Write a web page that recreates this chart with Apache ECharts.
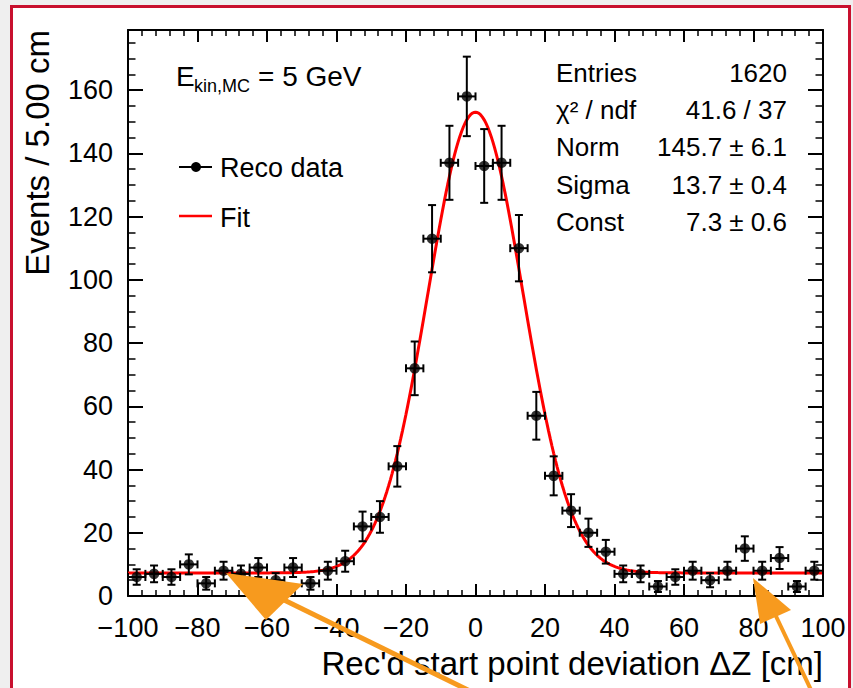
<!DOCTYPE html>
<html><head><meta charset="utf-8">
<script src="https://cdn.jsdelivr.net/npm/echarts@6/dist/echarts.min.js"></script>
<style>
html,body{margin:0;padding:0;background:#efefef;width:853px;height:688px;overflow:hidden}
#frame{position:absolute;left:10px;top:5px;width:841px;height:720px;border:3px solid #c8102e;background:#fff;box-sizing:border-box}
#main{position:absolute;left:0;top:0;width:853px;height:688px}
</style></head><body>
<div id="frame"></div><div id="main"></div>
<script>
// ---- data ----
const binCenters = [-97.5,-92.5,-87.5,-82.5,-77.5,-72.5,-67.5,-62.5,-57.5,-52.5,
  -47.5,-42.5,-37.5,-32.5,-27.5,-22.5,-17.5,-12.5,-7.5,-2.5,
  2.5,7.5,12.5,17.5,22.5,27.5,32.5,37.5,42.5,47.5,
  52.5,57.5,62.5,67.5,72.5,77.5,82.5,87.5,92.5,97.5];
const counts = [6,7,6,10,4,8,7,9,5,9,
  4,8,11,22,25,41,72,113,137,158,
  136,137,110,57,38,27,20,14,7,7,
  3,6,8,5,8,15,8,12,3,8];
const binHalfWidth = 2.5;
// fit parameters shown in the stats box (Gaussian + constant, mean 0)
const fitNorm = 145.7, fitSigma = 13.7, fitConst = 7.3, fitMean = 0;
const statsLabels = ['Entries', 'χ² / ndf', 'Norm', 'Sigma', 'Const'];
const statsValues = ['1620', '41.6 / 37', '145.7 ± 6.1', '13.7 ± 0.4', '7.3 ± 0.6'];
const legendLabels = ['Reco data', 'Fit'];
const xTitle = "Rec'd start point deviation ΔZ [cm]";
const yTitle = 'Events / 5.00 cm';

const FONT = '"Liberation Sans", Arial, sans-serif';
const dataPts = binCenters.map((c, i) => [c, counts[i]]);
const errPts = binCenters.map((c, i) => [c, counts[i], binHalfWidth, Math.sqrt(counts[i])]);
const fitPts = [];
for (let k = 0; k <= 400; k++) {
  const x = -100 + k * 0.5;
  const z = (x - fitMean) / fitSigma;
  fitPts.push([x, fitNorm * Math.exp(-0.5 * z * z) + fitConst]);
}

const chart = echarts.init(document.getElementById('main'), null, {renderer: 'svg'});
const lineStyle = {color: '#000', width: 2};
function xAx(pos, showLabel) {
  return {type: 'value', position: pos, min: -100, max: 100, interval: 20,
    axisLine: {show: true, onZero: false, lineStyle},
    axisTick: {show: true, inside: true, length: 12, lineStyle},
    minorTick: {show: true, splitNumber: 5, length: 6, lineStyle: {color: '#000', width: 1.5}},
    splitLine: {show: false}, minorSplitLine: {show: false},
    axisLabel: {show: showLabel, color: '#000', fontSize: 27, fontFamily: FONT, margin: 18,
      formatter: v => String(v).replace('-', '\u2212')}};
}
function yAx(pos, showLabel) {
  return {type: 'value', position: pos, min: 0, max: 179, interval: 20,
    axisLine: {show: true, onZero: false, lineStyle},
    axisTick: {show: true, inside: true, length: 15, lineStyle},
    minorTick: {show: true, splitNumber: 4, length: 7.5, lineStyle: {color: '#000', width: 1.5}},
    splitLine: {show: false}, minorSplitLine: {show: false},
    axisLabel: {show: showLabel, color: '#000', fontSize: 27, fontFamily: FONT, margin: 15,
      formatter: v => (v % 20 === 0 ? String(v) : '')}};
}

const graphics = [];
// axis titles
graphics.push({type: 'text', x: 37, y: 30, rotation: Math.PI / 2, z: 10,
  style: {text: yTitle, fill: '#000', font: '33px ' + FONT, align: 'right', verticalAlign: 'middle'}});
graphics.push({type: 'text', x: 823, y: 663, z: 10,
  style: {text: xTitle, fill: '#000', font: '33px ' + FONT, align: 'right', verticalAlign: 'middle'}});
// energy label
graphics.push({type: 'text', x: 176, y: 76, z: 10,
  style: {text: 'E', fill: '#000', font: '28px ' + FONT, align: 'left', verticalAlign: 'middle'}});
graphics.push({type: 'text', x: 194, y: 86, z: 10,
  style: {text: 'kin,MC', fill: '#000', font: '18px ' + FONT, align: 'left', verticalAlign: 'middle'}});
graphics.push({type: 'text', x: 258, y: 76, z: 10,
  style: {text: '= 5 GeV', fill: '#000', font: '28px ' + FONT, align: 'left', verticalAlign: 'middle'}});
// stats
const statY = [73, 110, 147, 185, 222];
statsLabels.forEach((s, i) => {
  graphics.push({type: 'text', x: 556, y: statY[i], z: 10,
    style: {text: s, fill: '#000', font: '26px ' + FONT, align: 'left', verticalAlign: 'middle'}});
  graphics.push({type: 'text', x: 787, y: statY[i], z: 10,
    style: {text: statsValues[i], fill: '#000', font: '26px ' + FONT, align: 'right', verticalAlign: 'middle'}});
});
// legend
graphics.push({type: 'line', z: 10, shape: {x1: 179, y1: 167, x2: 212, y2: 167}, style: {stroke: '#000', lineWidth: 2}});
graphics.push({type: 'circle', z: 10, shape: {cx: 196, cy: 167, r: 5}, style: {fill: '#000'}});
graphics.push({type: 'text', x: 220, y: 168, z: 10,
  style: {text: legendLabels[0], fill: '#000', font: '27px ' + FONT, align: 'left', verticalAlign: 'middle'}});
graphics.push({type: 'line', z: 10, shape: {x1: 179, y1: 216, x2: 212, y2: 216}, style: {stroke: '#ff0000', lineWidth: 2.5}});
graphics.push({type: 'text', x: 220, y: 218, z: 10,
  style: {text: legendLabels[1], fill: '#000', font: '27px ' + FONT, align: 'left', verticalAlign: 'middle'}});
// orange annotation arrows
const ORANGE = '#f79a1e';
graphics.push({type: 'line', z: 20, shape: {x1: 280, y1: 598, x2: 472, y2: 692}, style: {stroke: ORANGE, lineWidth: 5}});
graphics.push({type: 'polygon', z: 20, shape: {points: [[226, 573], [303, 584], [266, 620]]}, style: {fill: ORANGE}});
graphics.push({type: 'line', z: 20, shape: {x1: 774, y1: 612, x2: 812, y2: 692}, style: {stroke: ORANGE, lineWidth: 4}});
graphics.push({type: 'polygon', z: 20, shape: {points: [[753, 578], [791, 610], [760, 624]]}, style: {fill: ORANGE}});

chart.setOption({
  animation: false,
  backgroundColor: 'transparent',
  grid: {left: 128, right: 30, top: 30, bottom: 92, containLabel: false, outerBoundsMode: 'none'},
  xAxis: [xAx('bottom', true), xAx('top', false)],
  yAxis: [yAx('left', true), yAx('right', false)],
  series: [
    {type: 'line', data: fitPts, xAxisIndex: 0, yAxisIndex: 0, showSymbol: false, symbol: 'none',
      lineStyle: {color: '#ff0000', width: 3}, z: 2, clip: true},
    {type: 'custom', data: errPts, xAxisIndex: 0, yAxisIndex: 0, encode: {x: 0, y: 1}, z: 3,
      renderItem: (params, api) => {
        const x = api.value(0), y = api.value(1), ex = api.value(2), ey = api.value(3);
        const L = api.coord([x - ex, y]), R = api.coord([x + ex, y]);
        const T = api.coord([x, y + ey]), B = api.coord([x, y - ey]);
        const cap = 4;
        const st = {stroke: '#000', lineWidth: 2};
        return {type: 'group', children: [
          {type: 'line', shape: {x1: L[0], y1: L[1], x2: R[0], y2: R[1]}, style: st},
          {type: 'line', shape: {x1: T[0], y1: T[1], x2: B[0], y2: B[1]}, style: st},
          {type: 'line', shape: {x1: L[0], y1: L[1] - cap, x2: L[0], y2: L[1] + cap}, style: st},
          {type: 'line', shape: {x1: R[0], y1: R[1] - cap, x2: R[0], y2: R[1] + cap}, style: st},
          {type: 'line', shape: {x1: T[0] - cap, y1: T[1], x2: T[0] + cap, y2: T[1]}, style: st},
          {type: 'line', shape: {x1: B[0] - cap, y1: B[1], x2: B[0] + cap, y2: B[1]}, style: st}
        ]};
      }},
    {type: 'scatter', data: dataPts, xAxisIndex: 0, yAxisIndex: 0, symbol: 'circle', symbolSize: 10.5,
      itemStyle: {color: '#000'}, z: 4}
  ],
  graphic: graphics
});
</script>
</body></html>
